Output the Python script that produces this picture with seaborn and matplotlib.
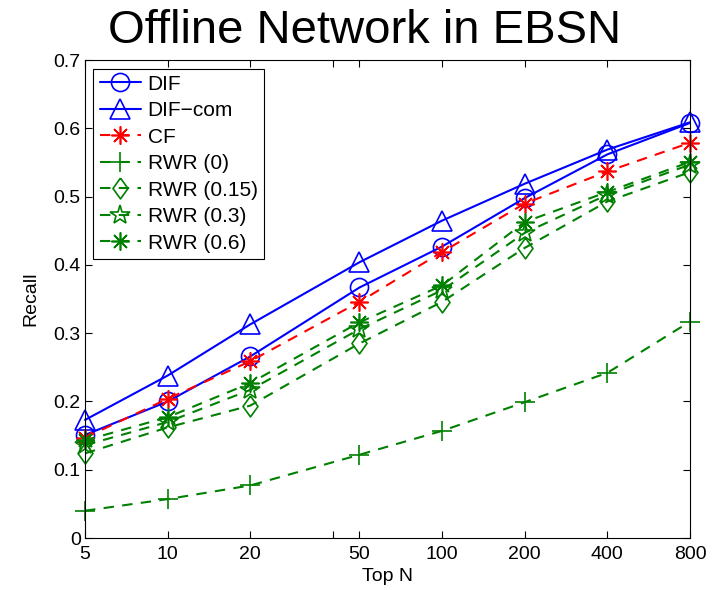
import matplotlib
matplotlib.use("Agg")
import matplotlib.pyplot as plt
from matplotlib.ticker import FixedLocator, FixedFormatter, NullFormatter
import seaborn as sns

top_n = [5, 10, 20, 50, 100, 200, 400, 800]
tick_labels = ["5", "10", "20", "50", "100", "200", "400", "800"]

dif = [0.151, 0.200, 0.266, 0.367, 0.427, 0.498, 0.562, 0.608]
dif_com = [0.173, 0.238, 0.313, 0.404, 0.465, 0.519, 0.569, 0.609]
cf = [0.147, 0.204, 0.259, 0.346, 0.419, 0.490, 0.537, 0.579]
rwr_0 = [0.040, 0.057, 0.077, 0.122, 0.157, 0.199, 0.242, 0.317]
rwr_015 = [0.124, 0.162, 0.194, 0.285, 0.346, 0.425, 0.493, 0.536]
rwr_03 = [0.136, 0.170, 0.217, 0.306, 0.363, 0.447, 0.503, 0.547]
rwr_06 = [0.143, 0.177, 0.227, 0.316, 0.370, 0.463, 0.507, 0.551]

sns.set_style("white")
plt.rcParams["font.family"] = ["Liberation Sans", "DejaVu Sans"]
plt.rcParams["text.color"] = "black"
plt.rcParams["axes.labelcolor"] = "black"

fig = plt.figure(figsize=(7.17, 5.90), dpi=100)
ax = fig.add_axes([0.1186, 0.0881, 0.8437, 0.8099])

blue = "#0000ff"
red = "#ff0000"
green = "#008000"
tall_diamond = [(0, 1), (0.72, 0), (0, -1), (-0.72, 0), (0, 1)]

series = [
    ("DIF", dif, blue, "-", "o", 13),
    ("DIF\u2212com", dif_com, blue, "-", "^", 15),
    ("CF", cf, red, "--", (8, 2, 0), 13),
    ("RWR (0)", rwr_0, green, "--", "+", 14),
    ("RWR (0.15)", rwr_015, green, "--", tall_diamond, 15),
    ("RWR (0.3)", rwr_03, green, "--", "*", 15),
    ("RWR (0.6)", rwr_06, green, "--", (8, 2, 0), 13),
]

for name, vals, col, ls, mk, ms in series:
    sns.lineplot(
        x=top_n, y=vals, ax=ax, color=col, linestyle=ls, linewidth=1.5,
        marker=mk, markersize=ms, markerfacecolor="none",
        markeredgecolor=col, markeredgewidth=1.2, label=name,
        clip_on=False,
    )

for line in ax.get_lines():
    if line.get_linestyle() == "--":
        line.set_dashes([5, 4])

ax.set_xscale("log")
ax.set_xlim(5, 800)
ax.set_ylim(0, 0.7)
ax.xaxis.set_major_locator(FixedLocator(top_n))
ax.xaxis.set_major_formatter(FixedFormatter(tick_labels))
ax.xaxis.set_minor_locator(FixedLocator([40]))
ax.xaxis.set_minor_formatter(NullFormatter())
yt = [0, 0.1, 0.2, 0.3, 0.4, 0.5, 0.6, 0.7]
ax.set_yticks(yt)
ax.set_yticklabels(["0", "0.1", "0.2", "0.3", "0.4", "0.5", "0.6", "0.7"])

ax.tick_params(which="both", direction="in", top=True, right=True,
               bottom=True, left=True, length=5, width=0.8,
               labelsize=14, colors="black", pad=3)
ax.tick_params(axis="x", pad=6)
for sp in ax.spines.values():
    sp.set_color("black")
    sp.set_linewidth(0.8)

ax.set_xlabel("Top N", fontsize=14, labelpad=3, color="black")
ax.set_ylabel("Recall", fontsize=14, labelpad=10, color="black")
fig.text(0.509, 0.985, "Offline Network in EBSN", fontsize=34,
         ha="center", va="top", color="black")

leg = ax.legend(loc="upper left", fontsize=15, frameon=True, fancybox=False,
                edgecolor="black", framealpha=1, handlelength=2.0,
                borderaxespad=0.4, labelspacing=0.36, handletextpad=0.3,
                borderpad=0.3)
leg.get_frame().set_linewidth(0.8)
for t in leg.get_texts():
    t.set_color("black")

fig.savefig("out.png", dpi=100)
